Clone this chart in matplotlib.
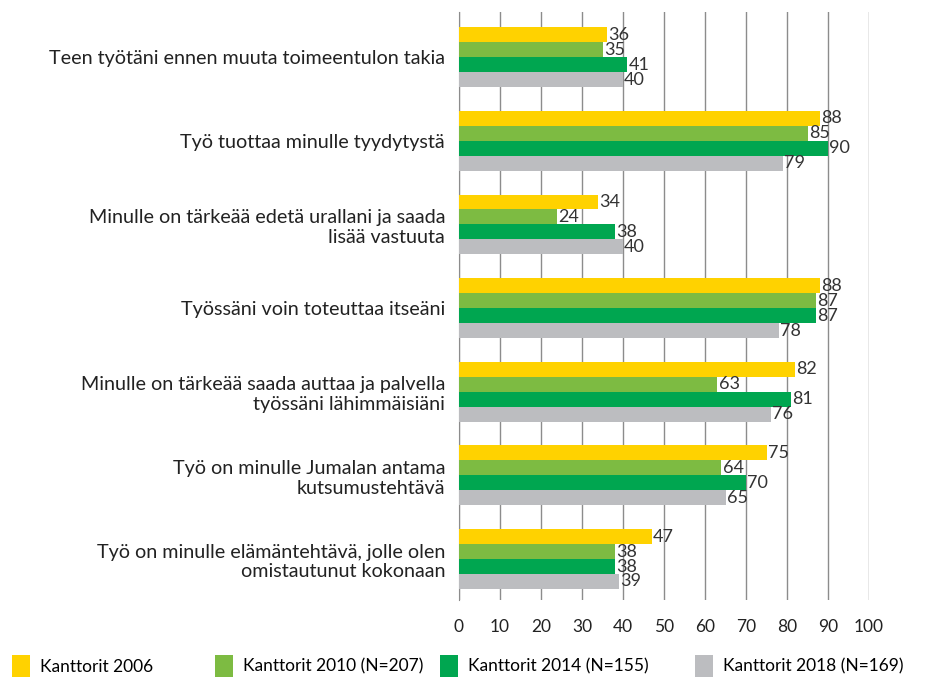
import matplotlib.pyplot as plt
import numpy as np
from matplotlib.patches import Patch

plt.rcParams.update({
    'font.family': ['Lato', 'DejaVu Sans'],
    'font.size': 13.5,
})

statements = [
    'Teen työtäni ennen muuta toimeentulon takia',
    'Työ tuottaa minulle tyydytystä',
    'Minulle on tärkeää edetä urallani ja saada\nlisää vastuuta',
    'Työssäni voin toteuttaa itseäni',
    'Minulle on tärkeää saada auttaa ja palvella\ntyössäni lähimmäisiäni',
    'Työ on minulle Jumalan antama\nkutsumustehtävä',
    'Työ on minulle elämäntehtävä, jolle olen\nomistautunut kokonaan',
]
series_labels = ['Kanttorit 2006', 'Kanttorit 2010 (N=207)',
                 'Kanttorit 2014 (N=155)', 'Kanttorit 2018 (N=169)']
v2006 = [36, 88, 34, 88, 82, 75, 47]
v2010 = [35, 85, 24, 87, 63, 64, 38]
v2014 = [41, 90, 38, 87, 81, 70, 38]
v2018 = [40, 79, 40, 78, 76, 65, 39]
colors = ['#FFD200', '#7DBB42', '#00A650', '#BCBDC0']

fig = plt.figure(figsize=(9.25, 6.78), dpi=100)
ax = fig.add_axes([459 / 925, 78 / 678, 410 / 925, 588 / 678])

y = np.arange(len(statements))
h = 0.179
for i, (vals, c) in enumerate(zip([v2006, v2010, v2014, v2018], colors)):
    pos = y - 1.5 * h + i * h
    ax.barh(pos, vals, h, color=c, zorder=3)
    for p, v in zip(pos, vals):
        ax.text(v + 0.3, p, str(v), ha='left', va='center', fontsize=13,
                color='#333333', zorder=4)

ax.set_xlim(0, 100)
ax.set_ylim(6.49, -0.54)
ax.set_xticks(np.arange(0, 101, 10))
ax.set_yticks(y)
ax.set_yticklabels(statements, multialignment='right')
ax.tick_params(axis='y', length=0, pad=10, labelsize=14.2, colors='#222222')
ax.tick_params(axis='x', length=0, pad=14, labelsize=12.5, labelcolor='#222222')
ax.grid(True, axis='x', color='#8C8C8C', linewidth=1, zorder=0)
for s in ['top', 'right', 'bottom']:
    ax.spines[s].set_visible(False)
ax.spines['left'].set_color('#8C8C8C')

# legend: one entry per box, placed like the reference
legend_x = [12, 215, 440, 695]
for c, lab, lx in zip(colors, series_labels, legend_x):
    fig.legend([Patch(facecolor=c, edgecolor='none')], [lab],
               loc='center left', bbox_to_anchor=(lx / 925, 1 - 666 / 678),
               frameon=False, fontsize=12.5, handlelength=1.05,
               handleheight=1.6, handletextpad=0.58, borderpad=0,
               borderaxespad=0)

fig.savefig('out.png', dpi=100)
